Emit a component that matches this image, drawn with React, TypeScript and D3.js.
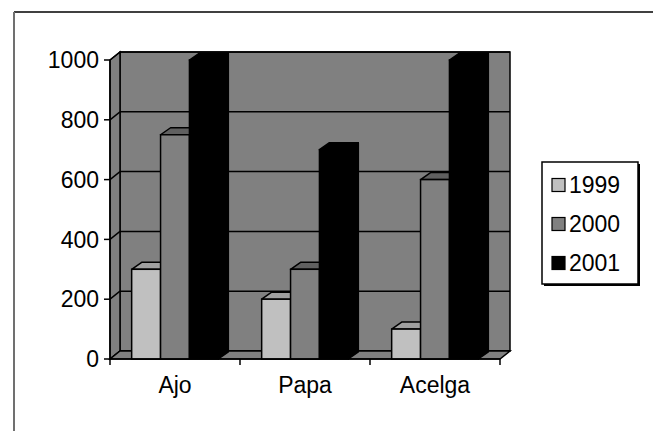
import React from 'react';
import * as d3 from 'd3';

const categories = ['Ajo', 'Papa', 'Acelga'];
const seriesNames = ['1999', '2000', '2001'];
const values1999 = [300, 200, 100];
const values2000 = [750, 300, 600];
const values2001 = [1000, 700, 1000];
const yTicks = [0, 200, 400, 600, 800, 1000];

const seriesValues = [values1999, values2000, values2001];
const frontColors = ['#c0c0c0', '#808080', '#000000'];
const topColors = ['#a0a0a0', '#606060', '#000000'];
const sideColors = ['#909090', '#606060', '#000000'];

const W = 653;
const H = 431;
const DX = 10;
const DY = -8;
const BX = 10;
const BY = -7;
const FONT = '"Liberation Sans", Arial, sans-serif';
const FS = 23;

export default function App() {
  const x = d3.scaleBand<string>().domain(categories).range([110, 500]).padding(0);
  const inner = d3
    .scaleBand<string>()
    .domain(seriesNames)
    .range([0, x.bandwidth()])
    .paddingInner(0)
    .paddingOuter(0.75);
  const y = d3.scaleLinear().domain([0, 1000]).range([359, 60]);

  const x0 = x.range()[0];
  const x1 = x.range()[1];
  const y0 = y(0);
  const yTop = y(1000);
  const pts = (arr: number[][]) => arr.map((p) => p.join(',')).join(' ');
  const sw = 1.5;

  const bars: React.ReactNode[] = [];
  categories.forEach((cat, ci) => {
    seriesNames.forEach((s, si) => {
      const v = seriesValues[si][ci];
      const bx = (x(cat) as number) + (inner(s) as number);
      const bw = inner.bandwidth();
      const ty = y(v);
      bars.push(
        <g key={cat + s}>
          <polygon
            points={pts([[bx + bw, y0], [bx + bw + BX, y0 + BY], [bx + bw + BX, ty + BY], [bx + bw, ty]])}
            fill={sideColors[si]}
            stroke="#000"
            strokeWidth={sw}
            strokeLinejoin="round"
          />
          <polygon
            points={pts([[bx, ty], [bx + bw, ty], [bx + bw + BX, ty + BY], [bx + BX, ty + BY]])}
            fill={topColors[si]}
            stroke="#000"
            strokeWidth={sw}
            strokeLinejoin="round"
          />
          <rect x={bx} y={ty} width={bw} height={y0 - ty} fill={frontColors[si]} stroke="#000" strokeWidth={sw} />
        </g>
      );
    });
  });

  return (
    <svg
      width={W}
      height={H}
      style={{ position: 'absolute', left: 0, top: 0, background: '#fff' }}
      fontFamily={FONT}
    >
      {/* outer frame */}
      <line x1={14} y1={12} x2={W} y2={12} stroke="#000" strokeWidth={1.5} />
      <line x1={14} y1={12} x2={14} y2={H} stroke="#707070" strokeWidth={2} />

      {/* back wall */}
      <rect x={x0 + DX} y={yTop + DY} width={x1 - x0} height={y0 - yTop} fill="#808080" stroke="#000" strokeWidth={sw} />
      {/* side wall */}
      <polygon
        points={pts([[x0, y0], [x0 + DX, y0 + DY], [x0 + DX, yTop + DY], [x0, yTop]])}
        fill="#808080"
        stroke="#000"
        strokeWidth={sw}
      />
      {/* gridlines */}
      {yTicks.map((t) => (
        <g key={'g' + t}>
          <line x1={x0 + DX} x2={x1 + DX} y1={y(t) + DY} y2={y(t) + DY} stroke="#000" strokeWidth={sw} />
          <line x1={x0} x2={x0 + DX} y1={y(t)} y2={y(t) + DY} stroke="#000" strokeWidth={sw} />
        </g>
      ))}
      {/* floor */}
      <polygon
        points={pts([[x0, y0], [x0 + DX, y0 + DY], [x1 + DX, y0 + DY], [x1, y0]])}
        fill="#808080"
        stroke="#000"
        strokeWidth={sw}
      />

      {bars}

      {/* y axis */}
      <line x1={x0} x2={x0} y1={yTop} y2={y0} stroke="#000" strokeWidth={sw} />
      {yTicks.map((t) => (
        <g key={'t' + t}>
          <line x1={x0 - 6} x2={x0} y1={y(t)} y2={y(t)} stroke="#000" strokeWidth={sw} />
          <text x={99} y={y(t)} dy="0.36em" textAnchor="end" fontSize={FS} fill="#000">
            {t}
          </text>
        </g>
      ))}
      {/* x axis */}
      <line x1={x0} x2={x1} y1={y0} y2={y0} stroke="#000" strokeWidth={sw} />
      {[...categories.map((c) => x(c) as number), x1].map((tx, i) => (
        <line key={'xt' + i} x1={tx} x2={tx} y1={y0} y2={y0 + 6} stroke="#000" strokeWidth={sw} />
      ))}
      {categories.map((c) => (
        <text key={'c' + c} x={(x(c) as number) + x.bandwidth() / 2} y={393} textAnchor="middle" fontSize={FS} fill="#000">
          {c}
        </text>
      ))}

      {/* legend */}
      <rect x={544} y={164} width={96} height={122} fill="#000" />
      <rect x={542} y={162} width={96} height={122} fill="#fff" stroke="#000" strokeWidth={1.5} />
      {seriesNames.map((s, i) => (
        <g key={'l' + s} transform={`translate(552, ${185 + i * 39})`}>
          <rect x={0} y={-6.5} width={13} height={13} fill={frontColors[i]} stroke="#000" strokeWidth={1.2} />
          <text x={17} y={0} dy="0.36em" fontSize={FS} fill="#000">
            {s}
          </text>
        </g>
      ))}
    </svg>
  );
}
